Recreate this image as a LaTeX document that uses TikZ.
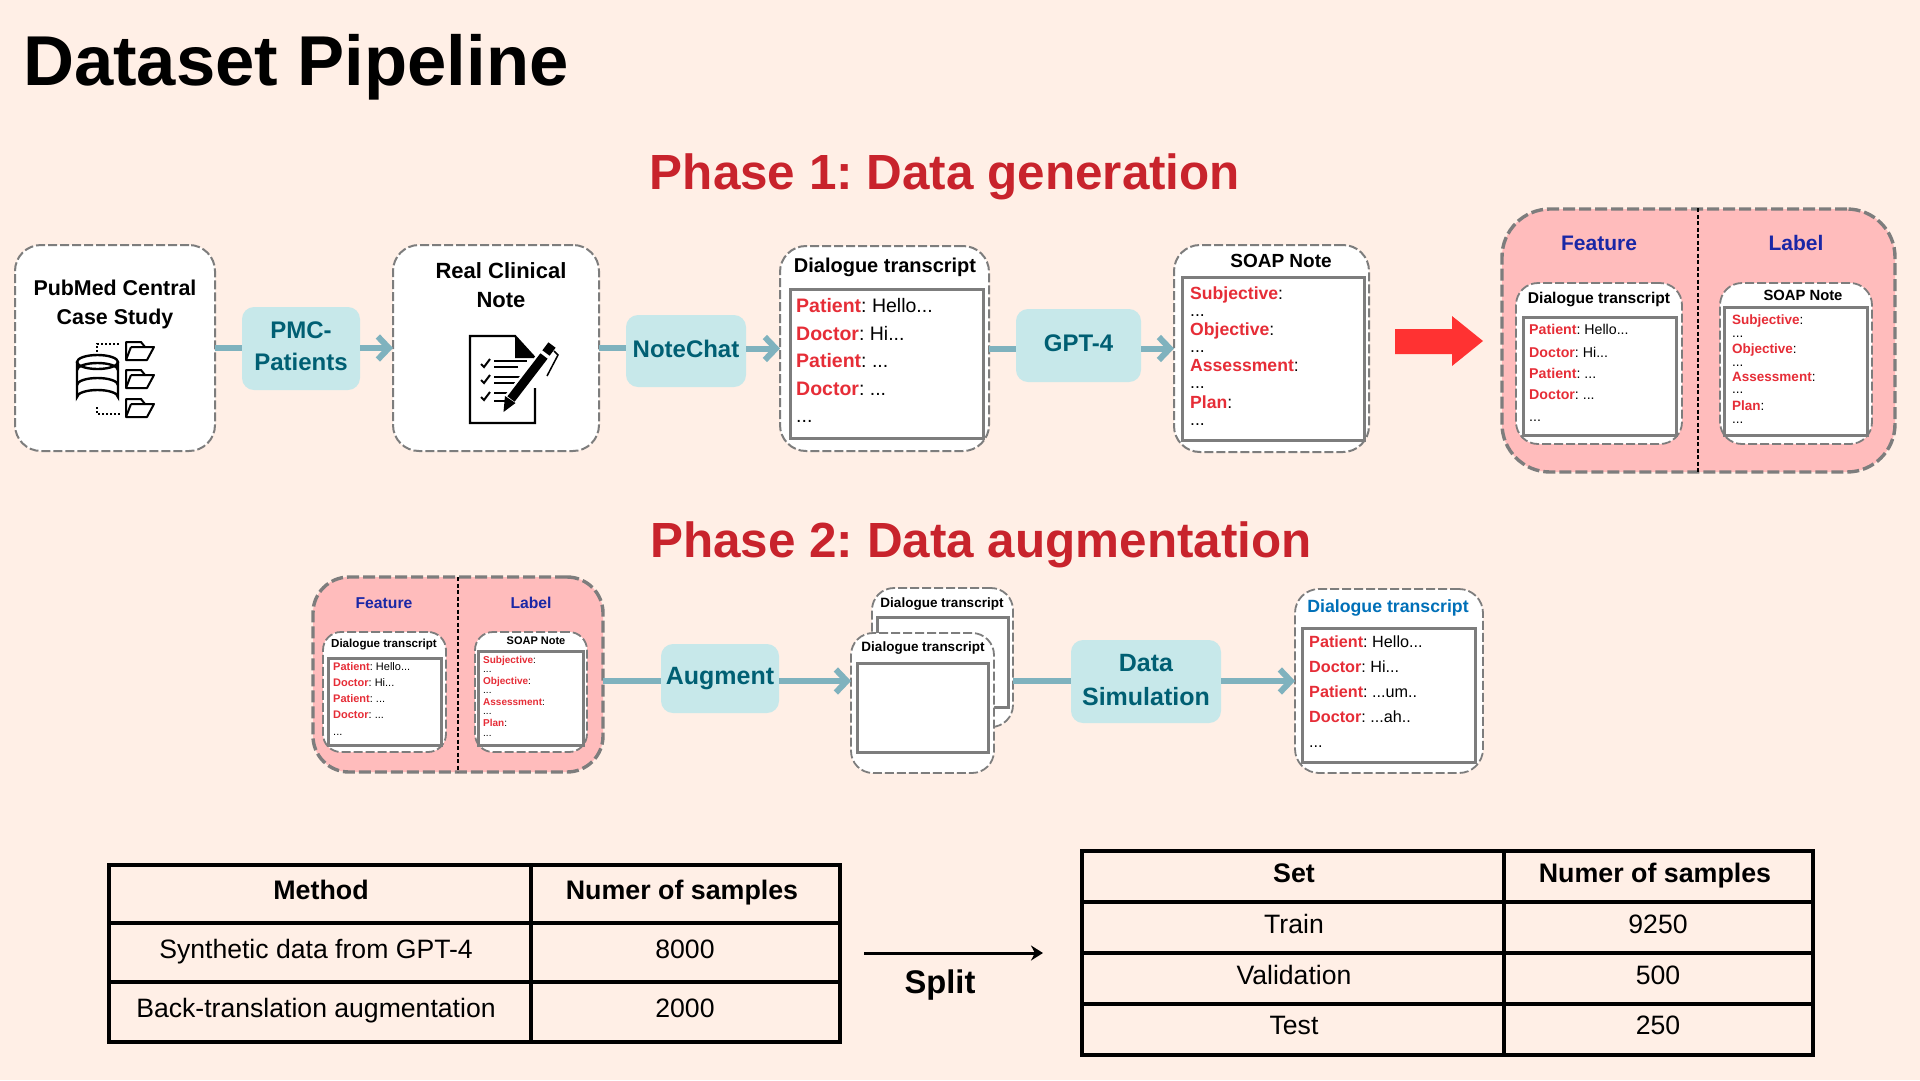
\documentclass[tikz,border=0pt]{standalone}
\usepackage{fontspec}
\setmainfont{Liberation Sans}
\usetikzlibrary{arrows.meta}
\frenchspacing
\definecolor{bgc}{RGB}{255,239,230}
\definecolor{pinkc}{RGB}{255,188,188}
\definecolor{dashc}{RGB}{125,125,125}
\definecolor{tagc}{RGB}{199,232,234}
\definecolor{tagt}{RGB}{0,95,115}
\definecolor{arrc}{RGB}{127,178,190}
\definecolor{phasec}{RGB}{200,35,44}
\definecolor{redt}{RGB}{230,45,55}
\definecolor{bluet}{RGB}{26,39,166}
\definecolor{blueo}{RGB}{0,112,184}
\definecolor{bigred}{RGB}{255,50,50}
\tikzset{
  card/.style={draw=dashc,fill=white,line width=2pt,dash pattern=on 9pt off 3pt,rounded corners=26pt},
  smallcard/.style={draw=dashc,fill=white,line width=1.8pt,dash pattern=on 9pt off 3pt,rounded corners=22pt},
  group/.style={draw=dashc,fill=pinkc,line width=3.4pt,dash pattern=on 12pt off 4pt,rounded corners=48pt},
  sheet/.style={draw=dashc,fill=white,line width=3pt},
  tag/.style={fill=tagc,rounded corners=12pt,text=tagt,align=center},
  conn/.style={draw=arrc,line width=6pt,-{Straight Barb[length=11pt,width=23pt,line width=6pt]}},
  plain/.style={draw=arrc,line width=6pt},
  cellb/.style={draw=black,line width=3.5pt},
  divide/.style={draw=black,line width=1.8pt,dash pattern=on 4pt off 2.5pt}
}
\newcommand{\bx}[7][]{\node[#2,inner sep=0pt,outer sep=0pt,minimum width={(#5-#3)*1pt},minimum height={(#6-#4)*1pt},#1] (#7) at ({(#3+#5)/2},{(#4+#6)/2}) {};}
\newcommand{\tagbox}[7]{\node[tag,inner sep=0pt,outer sep=0pt,font={\bfseries\fontsize{#6}{#6}\selectfont},minimum width={(#4-#2)*1pt},minimum height={(#5-#3)*1pt}] (#1) at ({(#2+#4)/2},{(#3+#5)/2}) {#7};}
\newcommand{\tl}[6]{\node[inner sep=0pt,anchor=base,#2] (#1) at (#3,{#4+.36*#5}) {\fontsize{#5}{#5}\selectfont #6};}
\newcommand{\rr}[1]{\textcolor{redt}{\textbf{#1}}}
\newcommand{\soap}[2]{%
  \foreach \tx/\yy/\nn in {{\rr{Subjective}:}/\sya/a,{...}/\syb/b,{\rr{Objective}:}/\syc/c,{...}/\syd/d,{\rr{Assessment}:}/\sye/e,{...}/\syf/f,{\rr{Plan}:}/\syg/g,{...}/\syh/h}{
    \tl{#1\nn}{anchor=base west}{#2}{\yy}{\ssz}{\tx}
  }
}
\begin{document}
\begin{tikzpicture}[x=1pt,y=-1pt]
\useasboundingbox (0,0) rectangle (1920,1080);
\fill[bgc] (0,0) rectangle (1920,1080);

% titles
\tl{title}{anchor=base west,font=\bfseries}{23}{60}{70.6}{Dataset Pipeline}
\tl{ph1}{text=phasec,font=\bfseries}{945}{171.5}{49.4}{Phase 1: Data generation}
\tl{ph2}{text=phasec,font=\bfseries}{981}{539.5}{49.4}{Phase 2: Data augmentation}

% ---------- Phase 1 boxes
\bx{card}{15}{245}{215}{451}{pubmed}
\bx{card}{393}{245}{599}{451}{clinical}
\bx{card}{780}{246}{989}{451}{dial}
\bx{sheet}{790}{289}{983}{438}{dialin}
\bx{card}{1174}{245}{1369}{452}{soapb}
\bx{sheet}{1182}{277}{1364}{440}{soapin}
\tagbox{pmc}{242}{307}{360}{390}{24}{PMC-\\[8pt]Patients\rule[-5pt]{0pt}{1pt}}
\tagbox{notechat}{626}{315}{746}{387}{24}{NoteChat\rule[-5pt]{0pt}{1pt}}
\tagbox{gpt}{1016}{309}{1141}{382}{24}{GPT-4\rule[-5pt]{0pt}{1pt}}

% connectors phase 1
\draw[plain] (pubmed.east) -- (pubmed.east -| pmc.west);
\draw[conn] (pmc.east |- clinical.west) -- (clinical.west);
\draw[plain] (clinical.east) -- (clinical.east -| notechat.west);
\draw[conn] (notechat.east |- dial.east) -- (dial.west);
\draw[plain] (dial.east) -- (dial.east -| gpt.west);
\draw[conn] (gpt.east |- soapb.west) -- (soapb.west);

\tl{pm1}{font=\bfseries}{115}{288}{21.4}{PubMed Central}
\tl{pm2}{font=\bfseries}{115}{317}{21.4}{Case Study}
\tl{rc1}{font=\bfseries}{501}{271}{22}{Real Clinical}
\tl{rc2}{font=\bfseries}{501}{300}{22}{Note}

% database icon
\begin{scope}[line width=2.4pt,draw=black]
\draw (77,362) -- (77,397) arc[x radius=20.5,y radius=7,start angle=180,end angle=360] -- (118,362);
\draw (97.5,362) ellipse [x radius=20.5,y radius=7];
\draw (77,370) arc[x radius=20.5,y radius=7,start angle=180,end angle=360];
\draw (77,385) arc[x radius=20.5,y radius=7,start angle=180,end angle=360];
\draw[dotted,line width=2pt] (97,352) -- (97,344) -- (120,344);
\draw[dotted,line width=2pt] (97,407) -- (97,414) -- (120,414);
\foreach \fy in {342,370,399}{
  \draw[line join=round,line width=2pt,fill=white] (126,\fy) -- (126,{\fy+18}) -- (147,{\fy+18}) -- (154,{\fy+5}) -- (145,{\fy+5}) -- (141,\fy) -- cycle;
  \draw[line width=2pt] (131,{\fy+5}) -- (145,{\fy+5}) (131,{\fy+5}) -- (126,{\fy+18});
}
\end{scope}

% note icon
\begin{scope}[line width=2.2pt,draw=black]
\draw[line join=miter] (535,388) -- (535,423) -- (470,423) -- (470,336) -- (515,336) -- (535,358);
\fill (515,336) -- (535,358) -- (515,358) -- cycle;
\foreach \yc in {363,379,396}{\draw[line width=2pt] (481,{\yc+1}) -- (484,{\yc+4}) -- (490,{\yc-4});}
\draw (494,361) -- (527,361) (494,367) -- (518,367) (494,377) -- (522,377) (494,383) -- (518,383) (494,393) -- (513,393) (494,401) -- (510,401);
\draw[white,line width=13pt] (508,402) -- (547,352);
\draw[line width=9pt] (511,399) -- (544,356);
\draw[line width=9pt] (546,353) -- (552,345);
\fill (503.5,412) -- (505,396) -- (515.5,403) -- cycle;
\draw[line width=1.5pt] (554,351) -- (558,355) -- (547,376);
\end{scope}

% dialogue text
\tl{dt}{font=\bfseries}{885}{265}{20}{Dialogue transcript}
\tl{dl1}{anchor=base west}{796}{305}{19.5}{\rr{Patient}: Hello...}
\tl{dl2}{anchor=base west}{796}{333}{19.5}{\rr{Doctor}: Hi...}
\tl{dl3}{anchor=base west}{796}{360}{19.5}{\rr{Patient}: ...}
\tl{dl4}{anchor=base west}{796}{388}{19.5}{\rr{Doctor}: ...}
\tl{dl5}{anchor=base west}{796}{415.5}{19.5}{...}

% soap text
\tl{st}{font=\bfseries}{1281}{261}{19}{SOAP Note}
\def\ssz{17.6}\def\sya{293}\def\syb{310}\def\syc{329}\def\syd{346}\def\sye{365}\def\syf{382}\def\syg{402}\def\syh{419}
\soap{sa}{1190}

% big red arrow
\fill[bigred] (1395,329) -- (1452,329) -- (1452,316) -- (1483,341) -- (1452,366) -- (1452,354) -- (1395,354) -- cycle;

% ---------- Feature/label group phase 1
\bx{group}{1502}{209}{1895}{472}{grpa}
\draw[divide] (1698,208) -- (1698,473);
\tl{fa}{text=bluet,font=\bfseries}{1599}{243}{21}{Feature}
\tl{la}{text=bluet,font=\bfseries}{1796}{243}{21}{Label}
\bx{smallcard}{1516}{283}{1682}{444}{ga1}
\bx{sheet}{1523}{317}{1676}{435}{ga2}
\bx{smallcard}{1720}{283}{1872}{444}{ga3}
\bx{sheet}{1724}{307}{1867}{435}{ga4}
\tl{gdt}{font=\bfseries}{1599}{298}{15.6}{Dialogue transcript}
\tl{gst}{font=\bfseries}{1803}{295}{14.8}{SOAP Note}
\tl{g1}{anchor=base west}{1529}{329}{14.2}{\rr{Patient}: Hello...}
\tl{g2}{anchor=base west}{1529}{352}{14.2}{\rr{Doctor}: Hi...}
\tl{g3}{anchor=base west}{1529}{373}{14.2}{\rr{Patient}: ...}
\tl{g4}{anchor=base west}{1529}{394}{14.2}{\rr{Doctor}: ...}
\tl{g5}{anchor=base west}{1529}{416}{14.2}{...}
\def\ssz{13.5}\def\sya{320}\def\syb{333}\def\syc{349}\def\syd{362}\def\sye{377}\def\syf{389}\def\syg{406}\def\syh{419}
\soap{gs}{1732}

% ---------- Phase 2 group
\bx[rounded corners=36pt]{group}{313}{577}{603}{772}{grpb}
\draw[divide] (458,577) -- (458,772);
\tl{fb}{text=bluet,font=\bfseries}{384}{603}{15.7}{Feature}
\tl{lb}{text=bluet,font=\bfseries}{531}{603}{15.7}{Label}
\bx[rounded corners=18pt]{smallcard}{323}{632}{446}{752}{gb1}
\bx{sheet}{328}{658}{441}{745}{gb2}
\bx[rounded corners=18pt]{smallcard}{475}{632}{587}{752}{gb3}
\bx{sheet}{478}{651}{583}{745}{gb4}
\tl{bdt}{font=\bfseries}{384}{643}{11.6}{Dialogue transcript}
\tl{bst}{font=\bfseries}{536}{641}{11}{SOAP Note}
\tl{b1}{anchor=base west}{333}{667}{11}{\rr{Patient}: Hello...}
\tl{b2}{anchor=base west}{333}{683}{11}{\rr{Doctor}: Hi...}
\tl{b3}{anchor=base west}{333}{699}{11}{\rr{Patient}: ...}
\tl{b4}{anchor=base west}{333}{715}{11}{\rr{Doctor}: ...}
\tl{b5}{anchor=base west}{333}{732}{11}{...}
\def\ssz{10}\def\sya{660}\def\syb{669}\def\syc{681}\def\syd{690}\def\sye{702}\def\syf{711}\def\syg{723}\def\syh{733}
\soap{bs}{483}

% stacked dialogues
\bx[rounded corners=22pt]{smallcard}{872}{588}{1013}{727}{backc}
\bx{sheet}{877}{617}{1008}{707}{backs}
\bx[rounded corners=22pt]{smallcard}{851}{633}{994}{773}{frontc}
\bx{sheet}{857}{663}{988}{752}{fronts}
\tl{bdlg}{font=\bfseries}{942}{603}{13.5}{Dialogue transcript}
\tl{fdlg}{font=\bfseries}{923}{647}{13.5}{Dialogue transcript}

% output
\bx[rounded corners=24pt]{smallcard}{1295}{589}{1483}{773}{outc}
\bx{sheet}{1302}{628}{1475}{762}{outs}
\tl{odt}{text=blueo,font=\bfseries}{1388}{606}{17.7}{Dialogue transcript}
\tl{o1}{anchor=base west}{1309}{642}{16.2}{\rr{Patient}: Hello...}
\tl{o2}{anchor=base west}{1309}{667}{16.2}{\rr{Doctor}: Hi...}
\tl{o3}{anchor=base west}{1309}{692}{16.2}{\rr{Patient}: ...um..}
\tl{o4}{anchor=base west}{1309}{717}{16.2}{\rr{Doctor}: ...ah..}
\tl{o5}{anchor=base west}{1309}{742}{16.2}{...}

\tagbox{aug}{661}{644}{779}{713}{25}{Augment}
\tagbox{sim}{1071}{640}{1221}{723}{25}{Data\\[9pt]Simulation\rule[-4pt]{0pt}{1pt}}
\coordinate (y2) at (0,681);
\draw[plain] (grpb.east |- y2) -- (aug.west |- y2);
\draw[conn] (aug.east |- y2) -- (frontc.west |- y2);
\draw[plain] (backc.east |- y2) -- (sim.west |- y2);
\draw[conn] (sim.east |- y2) -- (outc.west |- y2);

% ---------- tables
\bx{cellb}{109}{865}{531}{923}{t11}
\bx{cellb}{531}{865}{840}{923}{t12}
\bx{cellb}{109}{923}{531}{982}{t21}
\bx{cellb}{531}{923}{840}{982}{t22}
\bx{cellb}{109}{982}{531}{1042}{t31}
\bx{cellb}{531}{982}{840}{1042}{t32}
\tl{tm}{font=\bfseries}{321}{890}{26.8}{Method}
\tl{tn}{font=\bfseries}{682}{890}{26.8}{Numer of samples}
\tl{ts}{}{316}{949}{26.6}{Synthetic data from GPT-4}
\tl{tv1}{}{685}{949}{26.6}{8000}
\tl{tb}{}{316}{1008}{26.6}{Back-translation augmentation}
\tl{tv2}{}{685}{1008}{26.6}{2000}

\bx{cellb}{1082}{851}{1504}{902}{r11}
\bx{cellb}{1504}{851}{1813}{902}{r12}
\bx{cellb}{1082}{902}{1504}{953}{r21}
\bx{cellb}{1504}{902}{1813}{953}{r22}
\bx{cellb}{1082}{953}{1504}{1004}{r31}
\bx{cellb}{1504}{953}{1813}{1004}{r32}
\bx{cellb}{1082}{1004}{1504}{1055}{r41}
\bx{cellb}{1504}{1004}{1813}{1055}{r42}
\tl{rs}{font=\bfseries}{1294}{873}{26.8}{Set}
\tl{rn}{font=\bfseries}{1655}{873}{26.8}{Numer of samples}
\tl{r1}{}{1294}{924}{26.6}{Train}
\tl{rv1}{}{1658}{924}{26.6}{9250}
\tl{r2}{}{1294}{974.5}{26.6}{Validation}
\tl{rv2}{}{1658}{974.5}{26.6}{500}
\tl{r3}{}{1294}{1025}{26.6}{Test}
\tl{rv3}{}{1658}{1025}{26.6}{250}

\coordinate (sp1) at (864,953);
\coordinate (sp2) at (1043,953);
\draw[line width=3pt,-{Stealth[length=12pt,width=15pt]}] (sp1) -- (sp2);
\tl{split}{font=\bfseries}{940}{982}{32.7}{Split}
\end{tikzpicture}
\end{document}
